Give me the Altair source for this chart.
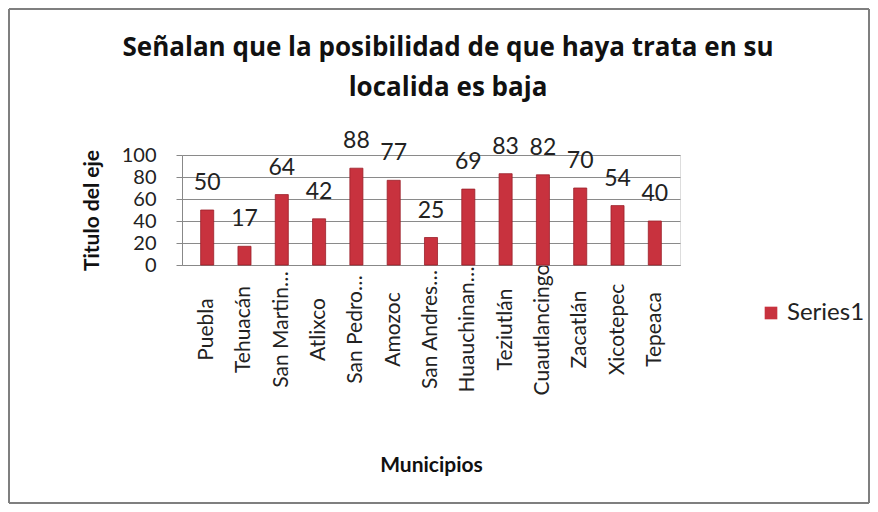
import altair as alt
import pandas as pd

municipios = ["Puebla", "Tehuacán", "San Martin…", "Atlixco", "San Pedro…", "Amozoc",
              "San Andres…", "Huauchinan…", "Teziutlán", "Cuautlancingo", "Zacatlán",
              "Xicotepec", "Tepeaca"]
valores = [50, 17, 64, 42, 88, 77, 25, 69, 83, 82, 70, 54, 40]
serie = ["Series1"] * len(municipios)
titulo = ["Señalan que la posibilidad de que haya trata en su", "localida es baja"]
y_ticks = [0, 20, 40, 60, 80, 100]

df = pd.DataFrame({"Municipio": municipios, "Valor": valores, "Serie": serie})
one = pd.DataFrame({"k": [0]})

FONT = "Lato"
TFONT = "Open Sans"
BAR = "#C8323E"

x_axis = alt.Axis(title="Municipios", labelAngle=-90, labelAlign="center",
                  labelFontSize=21, labelFont=FONT, labelColor="#222",
                  labelPadding=64, ticks=False, domainColor="#888",
                  titleFont=FONT, titleFontSize=21, titleFontWeight="bold",
                  titleColor="#111", titlePadding=60, labelLimit=200)
y_axis = alt.Axis(title="Titulo del eje", values=y_ticks,
                  labelOverlap=False, labelFontSize=20, labelFont=FONT,
                  labelColor="#222", gridColor="#8a8a8a", domainColor="#888",
                  tickColor="#888", tickSize=6, labelPadding=20,
                  titleFont=FONT, titleFontSize=21, titleFontWeight="bold",
                  titleColor="#111", titlePadding=19)
x_scale = alt.Scale(paddingInner=0.65, paddingOuter=0.5)
y_scale = alt.Scale(domain=[0, 100])

bars = alt.Chart(df).mark_bar(stroke="#9a1f2a", strokeWidth=0.8).encode(
    x=alt.X("Municipio:N", sort=municipios, scale=x_scale, axis=x_axis),
    y=alt.Y("Valor:Q", scale=y_scale, axis=y_axis),
    color=alt.Color("Serie:N", scale=alt.Scale(range=[BAR]),
                    legend=alt.Legend(title=None, orient="none", legendX=577, legendY=146,
                                      symbolType="square", symbolSize=160,
                                      labelFont=FONT, labelFontSize=24, labelColor="#222",
                                      symbolStrokeWidth=0))
)

labels = alt.Chart(df).mark_text(baseline="bottom", dy=-15, fontSize=23, font=FONT,
                                 color="#222").encode(
    x=alt.X("Municipio:N", sort=municipios, scale=x_scale, axis=x_axis),
    y=alt.Y("Valor:Q", scale=y_scale, axis=y_axis),
    text="Valor:Q")

# outer frame of the chart (decoration)
FL, FR, FT, FB = -173, 687, -146, 348
frame_top = alt.Chart(one).mark_rule(color="#7f7f7f", strokeWidth=2).encode(
    x=alt.value(FL), x2=alt.value(FR), y=alt.value(FT))
frame_bot = alt.Chart(one).mark_rule(color="#7f7f7f", strokeWidth=2).encode(
    x=alt.value(FL), x2=alt.value(FR), y=alt.value(FB))
frame_left = alt.Chart(one).mark_rule(color="#7f7f7f", strokeWidth=2).encode(
    x=alt.value(FL), y=alt.value(FT), y2=alt.value(FB))
frame_right = alt.Chart(one).mark_rule(color="#7f7f7f", strokeWidth=2).encode(
    x=alt.value(FR), y=alt.value(FT), y2=alt.value(FB))

title1 = alt.Chart(one).mark_text(font=TFONT, fontSize=26, fontWeight="bold", color="#111",
                                  align="center", baseline="middle").encode(
    x=alt.value(266), y=alt.value(-107), text=alt.value(titulo[0]))
title2 = alt.Chart(one).mark_text(font=TFONT, fontSize=26, fontWeight="bold", color="#111",
                                  align="center", baseline="middle").encode(
    x=alt.value(266), y=alt.value(-67), text=alt.value(titulo[1]))

chart = alt.layer(frame_top, frame_bot, frame_left, frame_right, bars, labels,
                  title1, title2).properties(
    width=498, height=110,
    autosize=alt.AutoSizeParams(type="none"),
    padding={"left": 174, "top": 147, "right": 190, "bottom": 239},
).configure_view(stroke=None).configure(background="white")

chart.save("out.html", embed_options={"renderer": "svg", "actions": False})
